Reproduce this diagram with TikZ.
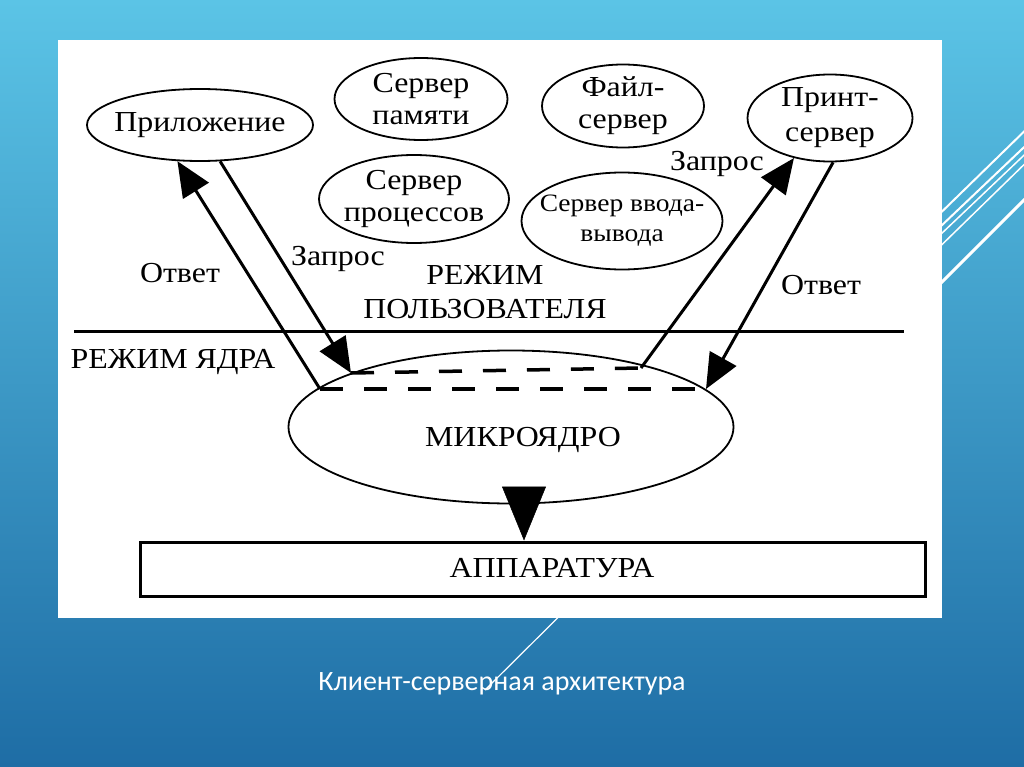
\documentclass[tikz,border=0pt]{standalone}
\usepackage{fontspec}
\setmainfont{Liberation Serif}[FakeStretch=1.1]
\newfontfamily\captionfont{Carlito}
\usetikzlibrary{shapes.geometric, positioning, arrows.meta}
\definecolor{slidetop}{HTML}{5BC4E6}
\definecolor{slidemid}{HTML}{3399C6}
\definecolor{slidebot}{HTML}{1E6DA5}

\begin{document}
\begin{tikzpicture}[
  x=1pt, y=-1pt,
  server/.style={
    ellipse, draw=black, line width=1.8pt, fill=white,
    inner xsep=-14pt, inner ysep=0pt, align=center,
    font=\fontsize{29}{32}\selectfont
  },
  tag/.style={font=\fontsize{29}{32}\selectfont, inner sep=0pt, align=center},
  caps/.style={tag, font=\fontsize{29}{34}\selectfont},
  flow/.style={line width=3pt, -{Triangle[length=35pt, width=30pt]}},
  splitline/.style={line width=3.5pt, dash pattern=on 23pt off 21pt},
  deco/.style={white, line width=2pt},
]

% Slide background
\clip (0,0) rectangle (1024,767);
\shade[top color=slidetop, middle color=slidemid, bottom color=slidebot]
  (0,0) rectangle (1024,767);

% Stripes on the right
\draw[deco] (880,272) -- (1040,116);
\draw[deco] (880,284) -- (1040,132);
\draw[deco, line width=1.5pt] (880,292) -- (1040,140);
\draw[deco, line width=1.5pt] (880,305) -- (1040,149);
\draw[deco, line width=3pt] (880,344) -- (1040,184);
\draw[deco, line width=1.2pt] (620,556) -- (485,690);

% Panel
\fill[white] (58,40) rectangle (942,618);

% Servers
\node[server, minimum width=226pt, minimum height=72pt] (app) at (200,125)
  {Приложение};
\node[server, minimum width=173pt, minimum height=82pt] (mem) at (421,99)
  {Сервер\\памяти};
\node[server, minimum width=190pt, minimum height=88pt] (proc) at (414,199)
  {Сервер\\процессов};
\node[server, minimum width=162pt, minimum height=83pt] (file) at (623,106)
  {Файл-\\сервер};
\node[server, minimum width=201pt, minimum height=97pt,
  font=\fontsize{25}{30}\selectfont] (io) at (622,221)
  {Сервер ввода-\\вывода};
\node[server, minimum width=165pt, minimum height=87pt,
  font=\fontsize{29}{35}\selectfont] (prn) at (830,118)
  {Принт-\\сервер};

% Modes
\draw[line width=3pt] (74,331) -- (904,331);
\node[caps] (user) at (485,292) {РЕЖИМ\\ПОЛЬЗОВАТЕЛЯ};
\node[caps] (core) at (173,362) {РЕЖИМ ЯДРА};

% Microkernel
\node[server, minimum width=445pt, minimum height=153pt] (kernel)
  at (511,427) {};
\node[caps] (kname) at (523,440) {МИКРОЯДРО};
\coordinate (ul) at (351,373);
\coordinate (ur) at (641,368);
\coordinate (ll) at (320,389);
\coordinate (lr) at (706,389);
\draw[splitline] (ul) -- (ur);
\draw[splitline] (ll) -- (lr);

% Hardware
\node[draw=black, line width=3pt, minimum width=785pt, minimum height=54pt]
  (hw) at (533,569) {};
\node[caps] (hwname) at (552,568) {АППАРАТУРА};
\coordinate (drop) at (524,487);
\draw[line width=0.5pt, -{Triangle[length=54pt, width=44pt]}]
  (drop) -- (drop |- hw.north);

% Requests and replies
\draw[flow] (ll) -- (app.238);
\draw[flow] (app.299) -- (ul);
\draw[flow] (ur) -- (prn.228);
\draw[flow] (prn.274) -- (lr);

\node[tag] (ansl) at (180,273) {Ответ};
\node[tag] (reql) at (338,259) {Запрос};
\node[tag] (reqr) at (717,164) {Запрос};
\node[tag] (ansr) at (821,285) {Ответ};

% Caption
\node[font=\captionfont\fontsize{28}{32}\selectfont, text=white,
  anchor=base, inner sep=0pt] (title) at (502,690)
  {Клиент-серверная архитектура};

\end{tikzpicture}
\end{document}
